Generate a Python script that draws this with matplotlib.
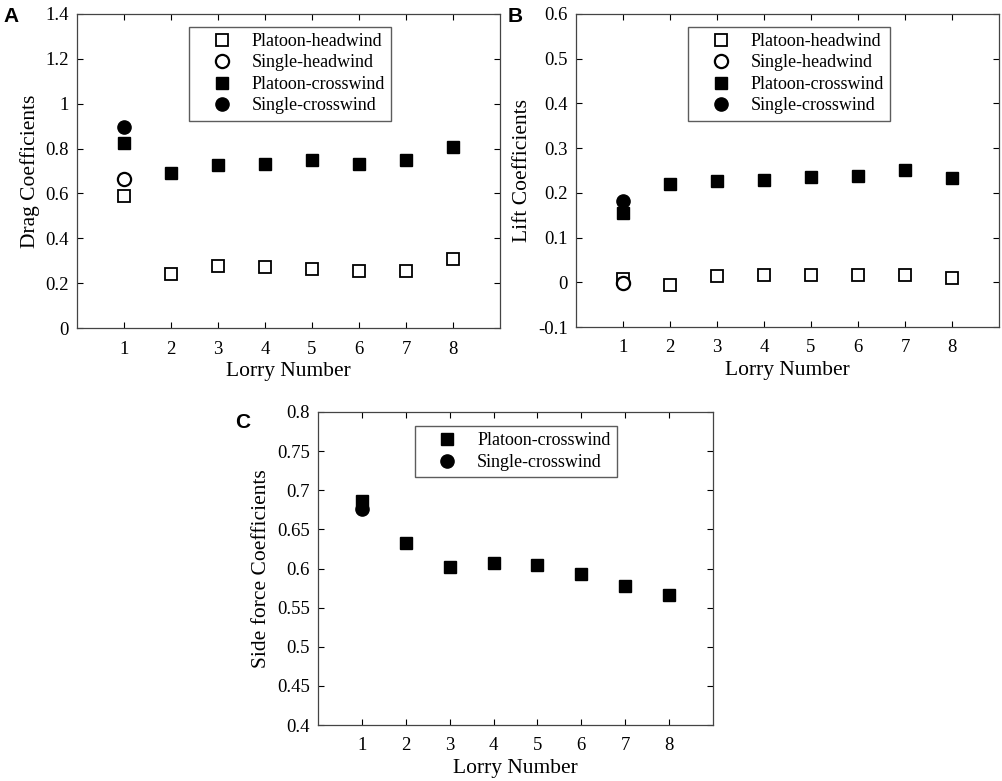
import matplotlib.pyplot as plt

plt.rcParams['font.family'] = ['Liberation Serif', 'DejaVu Serif']

lorry = [1, 2, 3, 4, 5, 6, 7, 8]

# A: drag
drag_platoon_head = [0.588, 0.240, 0.278, 0.272, 0.262, 0.256, 0.254, 0.308]
drag_single_head = [0.665]
drag_platoon_cross = [0.826, 0.693, 0.725, 0.732, 0.747, 0.732, 0.748, 0.807]
drag_single_cross = [0.894]

# B: lift
lift_platoon_head = [0.008, -0.007, 0.015, 0.016, 0.016, 0.017, 0.017, 0.010]
lift_single_head = [-0.002]
lift_platoon_cross = [0.155, 0.220, 0.226, 0.229, 0.235, 0.237, 0.251, 0.233]
lift_single_cross = [0.182]

# C: side force
side_platoon_cross = [0.686, 0.632, 0.602, 0.607, 0.605, 0.593, 0.578, 0.566]
side_single_cross = [0.676]

W, H = 1003, 781
fig = plt.figure(figsize=(W / 100, H / 100), dpi=100)


def make_ax(x0, y0, x1, y1):
    return fig.add_axes([x0 / W, 1 - y1 / H, (x1 - x0) / W, (y1 - y0) / H])


def fmt_g(v):
    return '%g' % round(v, 3)


def style(ax, ylim, yticks, ylabel):
    ax.set_xlim(0, 9)
    ax.set_ylim(*ylim)
    ax.set_xticks(lorry)
    ax.set_yticks(yticks)
    ax.set_yticklabels([fmt_g(v) for v in yticks])
    ax.tick_params(direction='in', top=True, right=True, labelsize=13.5,
                   length=4, width=0.8)
    ax.tick_params(axis='x', pad=9)
    ax.tick_params(axis='y', pad=6)
    for s in ax.spines.values():
        s.set_linewidth(0.9)
        s.set_color('#444444')
    ax.set_xlabel('Lorry Number', fontsize=15.5, labelpad=3)
    ax.set_ylabel(ylabel, fontsize=15.5, labelpad=4)


ms_sq = 8
ms_ci = 9.5
kw_open_sq = dict(ls='none', marker='s', ms=ms_sq, mfc='white', mec='black', mew=1.3)
kw_open_ci = dict(ls='none', marker='o', ms=ms_ci, mfc='white', mec='black', mew=1.6)
kw_fill_sq = dict(ls='none', marker='s', ms=ms_sq, color='black')
kw_fill_ci = dict(ls='none', marker='o', ms=ms_ci, color='black')

leg_kw = dict(loc='upper center', fontsize=13, frameon=True, fancybox=False,
              edgecolor='#333333', handletextpad=0.2, handlelength=2.9,
              borderpad=0.35, labelspacing=0.25, borderaxespad=0)

# Panel A
axA = make_ax(77, 14, 500, 328)
axA.plot(lorry, drag_platoon_head, label='Platoon-headwind', **kw_open_sq)
axA.plot([1], drag_single_head, label='Single-headwind', **kw_open_ci)
axA.plot(lorry, drag_platoon_cross, label='Platoon-crosswind', **kw_fill_sq)
axA.plot([1], drag_single_cross, label='Single-crosswind', **kw_fill_ci)
style(axA, (0, 1.4), [0, 0.2, 0.4, 0.6, 0.8, 1, 1.2, 1.4], 'Drag Coefficients')
legA = axA.legend(bbox_to_anchor=(0.504, 0.96), **leg_kw)
legA.get_frame().set_linewidth(1.0)

# Panel B
axB = make_ax(576, 14, 999, 327)
axB.plot(lorry, lift_platoon_head, label='Platoon-headwind', **kw_open_sq)
axB.plot([1], lift_single_head, label='Single-headwind', **kw_open_ci)
axB.plot(lorry, lift_platoon_cross, label='Platoon-crosswind', **kw_fill_sq)
axB.plot([1], lift_single_cross, label='Single-crosswind', **kw_fill_ci)
style(axB, (-0.1, 0.6), [-0.1, 0, 0.1, 0.2, 0.3, 0.4, 0.5, 0.6], 'Lift Coefficients')
legB = axB.legend(bbox_to_anchor=(0.504, 0.96), **leg_kw)
legB.get_frame().set_linewidth(1.0)

# Panel C
axC = make_ax(318, 412, 713, 725)
axC.plot(lorry, side_platoon_cross, label='Platoon-crosswind', **kw_fill_sq)
axC.plot([1], side_single_cross, label='Single-crosswind', **kw_fill_ci)
style(axC, (0.4, 0.8), [0.4, 0.45, 0.5, 0.55, 0.6, 0.65, 0.7, 0.75, 0.8],
      'Side force Coefficients')
legC = axC.legend(bbox_to_anchor=(0.501, 0.955), **leg_kw)
legC.get_frame().set_linewidth(1.0)

# panel letters
for txt, x, y in [('A', 3, 22), ('B', 508, 22), ('C', 235, 428)]:
    fig.text(x / W, 1 - y / H, txt, fontsize=15, fontweight='bold',
             family=['Liberation Sans', 'DejaVu Sans'])

fig.savefig('out.png', dpi=100)
